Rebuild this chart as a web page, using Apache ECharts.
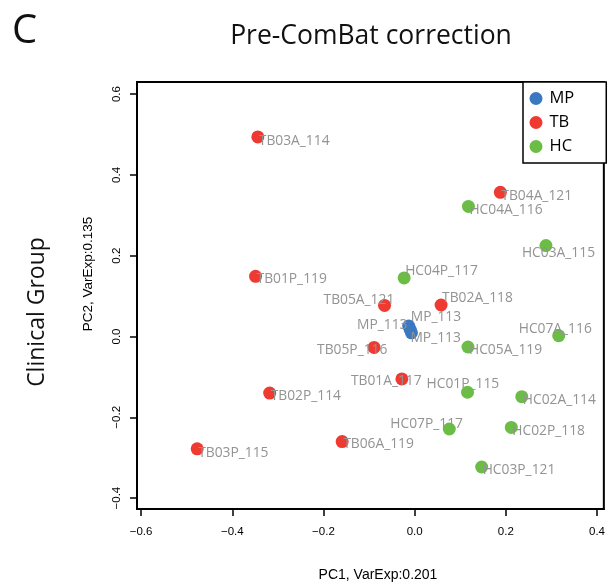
<!DOCTYPE html>
<html>
<head>
<meta charset="utf-8">
<script src="https://cdn.jsdelivr.net/npm/echarts@6/dist/echarts.min.js"></script>
<style>html,body{margin:0;padding:0;background:#fff}#c{width:608px;height:585px}</style>
</head>
<body>
<div id="c"></div>
<script>
// ---- data ----
var groups = ['MP', 'TB', 'HC'];

var mpNames = ['MP_113', 'MP_113', 'MP_113'];
var mpX = [-0.013, -0.010, -0.007];
var mpY = [0.026, 0.018, 0.009];

var tbNames = ['TB03A_114', 'TB01P_119', 'TB02P_114', 'TB03P_115', 'TB06A_119', 'TB04A_121', 'TB05A_121', 'TB02A_118', 'TB05P_116', 'TB01A_117'];
var tbX = [-0.344, -0.349, -0.318, -0.477, -0.159, 0.188, -0.066, 0.058, -0.089, -0.028];
var tbY = [0.494, 0.149, -0.140, -0.278, -0.260, 0.357, 0.077, 0.078, -0.027, -0.105];

var hcNames = ['HC04A_116', 'HC03A_115', 'HC04P_117', 'HC05A_119', 'HC07A_116', 'HC01P_115', 'HC02A_114', 'HC02P_118', 'HC07P_117', 'HC03P_121'];
var hcX = [0.118, 0.288, -0.023, 0.117, 0.316, 0.116, 0.235, 0.212, 0.076, 0.147];
var hcY = [0.322, 0.225, 0.145, -0.026, 0.002, -0.138, -0.149, -0.225, -0.229, -0.323];

var xTicks = [-0.6, -0.4, -0.2, 0.0, 0.2, 0.4];
var yTicks = [-0.4, -0.2, 0.0, 0.2, 0.4, 0.6];

// ---- label placement (style, pixels: [dx from dot centre to text start, dy]) ----
var mpLab = [[2, -9], [-53, -4], [-1, 5]];
var tbLab = [[1, 4], [1, 3], [1, 3], [1, 4], [1, 3], [1, 4], [-61, -5], [1, -7], [-57, 3], [-51, 2]];
var hcLab = [[1, 4], [-24, 7], [1, -7], [1, 3], [-40, -7], [-41, -8], [1, 3], [1, 4], [-59, -5], [1, 3]];

var colors = {MP: '#3a78c2', TB: '#ee3a30', HC: '#6bbd45'};

function makeData(names, xs, ys, labs) {
  return names.map(function (n, i) {
    return {
      name: n,
      value: [xs[i], ys[i]],
      label: {offset: labs[i]}
    };
  });
}

function fmt(v) {
  var s = Math.abs(v).toFixed(1);
  return (v < -1e-9 ? '\u2212' : '') + s;
}

var labelStyle = {
  show: true,
  position: 'inside',
  align: 'left',
  verticalAlign: 'middle',
  formatter: '{b}',
  color: '#939393',
  fontFamily: 'Open Sans',
  fontSize: 13.8
};

function series(g, names, xs, ys, labs) {
  return {
    name: g,
    type: 'scatter',
    symbol: 'circle',
    symbolSize: 13,
    itemStyle: {color: colors[g], opacity: 1},
    label: labelStyle,
    emphasis: {disabled: true},
    data: makeData(names, xs, ys, labs)
  };
}

var chart = echarts.init(document.getElementById('c'), null, {renderer: 'canvas'});
chart.setOption({
  animation: false,
  backgroundColor: '#fff',
  grid: {left: 137, right: 3, top: 82, bottom: 76, show: true, borderColor: '#000', borderWidth: 2, backgroundColor: 'transparent'},
  legend: {
    data: groups,
    orient: 'vertical',
    left: 523,
    top: 82,
    icon: 'circle',
    itemWidth: 17,
    itemHeight: 13,
    itemGap: 7,
    padding: [8, 32, 8, 6.5],
    borderColor: '#000',
    borderWidth: 1.5,
    backgroundColor: '#fff',
    textStyle: {fontFamily: 'Open Sans', fontSize: 16.5, color: '#000'}
  },
  xAxis: {
    type: 'value',
    min: -0.609,
    max: 0.415,
    splitLine: {show: false},
    axisLine: {show: true, onZero: false, lineStyle: {color: '#000', width: 2}},
    axisTick: {show: true, length: 7, customValues: xTicks, lineStyle: {color: '#000', width: 1.5}},
    axisLabel: {customValues: xTicks, formatter: fmt, margin: 17, fontFamily: 'Liberation Sans', fontSize: 11.5, color: '#000'}
  },
  yAxis: {
    type: 'value',
    min: -0.427,
    max: 0.63,
    splitLine: {show: false},
    axisLine: {show: true, onZero: false, lineStyle: {color: '#000', width: 2}},
    axisTick: {show: true, length: 7, customValues: yTicks, lineStyle: {color: '#000', width: 1.5}},
    axisLabel: {customValues: yTicks, formatter: fmt, rotate: 90, margin: 14, fontFamily: 'Liberation Sans', fontSize: 11.5, color: '#000'}
  },
  graphic: [
    {type: 'text', left: 12, top: 12, style: {text: 'C', font: '40px "Open Sans"', fill: '#111'}},
    {type: 'text', x: 371, y: 36, style: {text: 'Pre-ComBat correction', font: '26.5px "Open Sans"', fill: '#111', align: 'center', verticalAlign: 'middle'}},
    {type: 'text', x: 37, y: 312, rotation: Math.PI / 2, style: {text: 'Clinical Group', font: '23px "Open Sans"', fill: '#111', align: 'center', verticalAlign: 'middle'}},
    {type: 'text', x: 88, y: 274, rotation: Math.PI / 2, style: {text: 'PC2, VarExp:0.135', font: '13.5px "Liberation Sans"', fill: '#000', align: 'center', verticalAlign: 'middle'}},
    {type: 'text', x: 378, y: 575, style: {text: 'PC1, VarExp:0.201', font: '14px "Liberation Sans"', fill: '#000', align: 'center', verticalAlign: 'middle'}}
  ],
  series: [
    series('MP', mpNames, mpX, mpY, mpLab),
    series('TB', tbNames, tbX, tbY, tbLab),
    series('HC', hcNames, hcX, hcY, hcLab)
  ]
});
</script>
</body>
</html>
